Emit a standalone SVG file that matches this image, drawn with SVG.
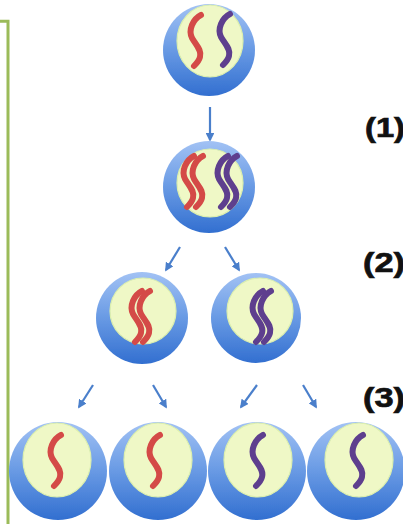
<svg xmlns="http://www.w3.org/2000/svg" xmlns:xlink="http://www.w3.org/1999/xlink" width="403" height="524" viewBox="0 0 403 524">
  <style>
    .cell { fill: url(#cellFill); filter: url(#soft); }
    .nucleus { fill: #EFF8C6; stroke: #DCEFAE; stroke-width: 1.2; }
    .chr { fill: none; stroke-width: 6; stroke-linecap: round; stroke-linejoin: round; }
    .red { stroke: #D44A47; }
    .purple { stroke: #5E3F8E; }
    .arrow { stroke: #4A7FCB; stroke-width: 2.2; fill: none; marker-end: url(#head); }
    .label { font-family: "Liberation Sans", Arial, sans-serif; font-weight: bold; font-size: 27px; fill: #111; stroke: #111; stroke-width: 0.7; }
    .frame { stroke: #9BBB59; stroke-width: 3; fill: none; }
  </style>
  <defs>
    <linearGradient id="cellFill" x1="0" y1="0" x2="0" y2="1">
      <stop offset="0" stop-color="#A2C2F4"/>
      <stop offset="0.45" stop-color="#6E9EE6"/>
      <stop offset="1" stop-color="#326FD0"/>
    </linearGradient>
    <filter id="soft" x="-10%" y="-10%" width="120%" height="120%">
      <feGaussianBlur stdDeviation="0.7"/>
    </filter>
    <marker id="head" viewBox="0 0 10 10" refX="8" refY="5" markerWidth="4" markerHeight="4" orient="auto" markerUnits="strokeWidth">
      <path d="M0,0 L10,5 L0,10 z" fill="#4A7FCB"/>
    </marker>
    <!-- one chromatid, drawn round (0,0) -->
    <path id="chrS" d="M4,-24 C-4,-20 -9,-9 -5,-1 C-1,6 5,11 3,18 C2,22 -1,25 -3,27"/>
  </defs>

  <rect width="403" height="524" fill="#fff"/>

  <!-- green frame on the left -->
  <path class="frame" d="M0,21.3 H8 V524"/>

  <!-- connectors -->
  <g id="connectors">
    <line class="arrow" x1="210" y1="107" x2="210" y2="140"/>
    <line class="arrow" x1="180" y1="247" x2="166" y2="270"/>
    <line class="arrow" x1="225" y1="247" x2="239" y2="270"/>
    <line class="arrow" x1="93" y1="385" x2="79" y2="407"/>
    <line class="arrow" x1="153" y1="385" x2="166" y2="407"/>
    <line class="arrow" x1="257" y1="385" x2="241" y2="407"/>
    <line class="arrow" x1="303" y1="385" x2="316" y2="407"/>
  </g>

  <!-- parent cell -->
  <g id="cell-parent">
    <circle class="cell" cx="209" cy="50" r="46"/>
    <ellipse class="nucleus" cx="210" cy="41" rx="33" ry="36"/>
    <use xlink:href="#chrS" class="chr red" transform="translate(197,39)"/>
    <use xlink:href="#chrS" class="chr purple" transform="translate(226,38)"/>
  </g>

  <!-- cell after replication -->
  <g id="cell-replicated">
    <circle class="cell" cx="209" cy="187" r="46"/>
    <ellipse class="nucleus" cx="210" cy="183" rx="33" ry="34"/>
    <use xlink:href="#chrS" class="chr red" transform="translate(190,180)"/>
    <use xlink:href="#chrS" class="chr red" transform="translate(199,180)"/>
    <use xlink:href="#chrS" class="chr purple" transform="translate(224,180)"/>
    <use xlink:href="#chrS" class="chr purple" transform="translate(233,180)"/>
  </g>

  <!-- first division -->
  <g id="cell-left">
    <circle class="cell" cx="142" cy="318" r="46"/>
    <ellipse class="nucleus" cx="143" cy="311" rx="33" ry="33"/>
    <use xlink:href="#chrS" class="chr red" transform="translate(138,315)"/>
    <use xlink:href="#chrS" class="chr red" transform="translate(146,315)"/>
  </g>
  <g id="cell-right">
    <circle class="cell" cx="256" cy="318" r="45"/>
    <ellipse class="nucleus" cx="260" cy="311" rx="33" ry="33"/>
    <use xlink:href="#chrS" class="chr purple" transform="translate(259,315)"/>
    <use xlink:href="#chrS" class="chr purple" transform="translate(267,315)"/>
  </g>

  <!-- second division -->
  <g id="cell-a">
    <circle class="cell" cx="58" cy="471" r="49"/>
    <ellipse class="nucleus" cx="57" cy="460" rx="34" ry="37"/>
    <use xlink:href="#chrS" class="chr red" transform="translate(57,459)"/>
  </g>
  <g id="cell-b">
    <circle class="cell" cx="158" cy="471" r="49"/>
    <ellipse class="nucleus" cx="158" cy="460" rx="34" ry="37"/>
    <use xlink:href="#chrS" class="chr red" transform="translate(156,459)"/>
  </g>
  <g id="cell-c">
    <circle class="cell" cx="257" cy="471" r="49"/>
    <ellipse class="nucleus" cx="258" cy="460" rx="34" ry="37"/>
    <use xlink:href="#chrS" class="chr purple" transform="translate(259,459)"/>
  </g>
  <g id="cell-d">
    <circle class="cell" cx="356" cy="471" r="49"/>
    <ellipse class="nucleus" cx="359" cy="460" rx="34" ry="37"/>
    <use xlink:href="#chrS" class="chr purple" transform="translate(359,459)"/>
  </g>

  <!-- step labels -->
  <g id="labels">
    <text class="label" x="365" y="137" textLength="40" lengthAdjust="spacingAndGlyphs">(1)</text>
    <text class="label" x="363" y="272" textLength="42" lengthAdjust="spacingAndGlyphs">(2)</text>
    <text class="label" x="363" y="407" textLength="42" lengthAdjust="spacingAndGlyphs">(3)</text>
  </g>
</svg>
